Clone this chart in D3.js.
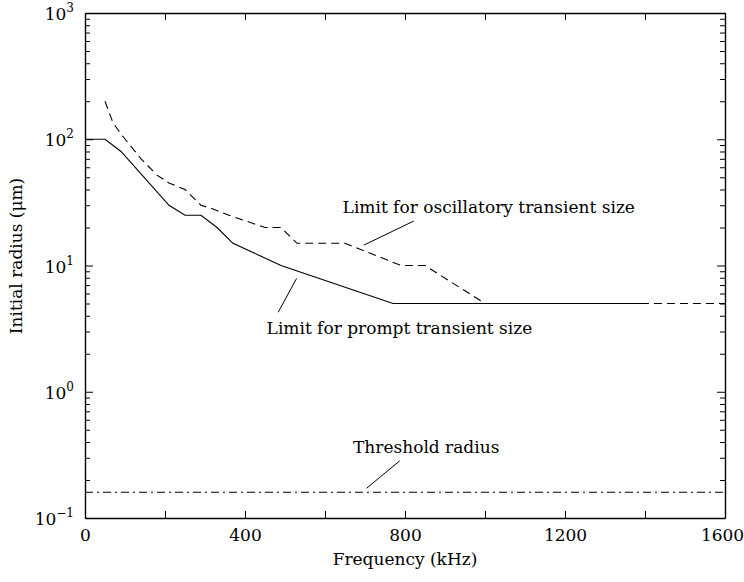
<!DOCTYPE html>
<html>
<head>
<meta charset="utf-8">
<script src="https://cdn.jsdelivr.net/npm/d3@7"></script>
<style>
  body { margin: 0; background: #fff; }
</style>
</head>
<body>
<div id="graph_area"></div>
<script>
// Data (frequency in kHz, radius in um)
const promptFreq = [0, 50, 90, 210, 250, 290, 330, 370, 490, 770, 1400];
const promptRadius = [100, 100, 80, 30, 25, 25, 20, 15, 10, 5, 5];

const oscFreq = [50, 70, 90, 140, 180, 210, 250, 290, 320, 360, 450, 490, 530, 650, 790, 850, 1000, 1600];
const oscRadius = [200, 135, 110, 70, 52, 45, 40, 30, 28, 25, 20, 20, 15, 15, 10, 10, 5, 5];

const thresholdFreq = [0, 1600];
const thresholdRadius = [0.16, 0.16];

const xTicks = [0, 200, 400, 600, 800, 1000, 1200, 1400, 1600];
const xLabelled = [0, 400, 800, 1200, 1600];
const yMajor = [0.1, 1, 10, 100, 1000];
const yExp = ['\u22121', '0', '1', '2', '3'];

// Annotations: text position and leader line, in data units
const notes = [
  { text: 'Limit for oscillatory transient size', fx: 644, fy: 26.2, line: [[822, 22.5], [697, 14.5]] },
  { text: 'Limit for prompt transient size', fx: 454, fy: 2.87, line: [[529, 7.9], [483, 4.26]] },
  { text: 'Threshold radius', fx: 670, fy: 0.325, line: [[787, 0.284], [704, 0.172]] },
];

const FONT = "'DejaVu Serif', serif";
const FS = 17;

// Draw area values
const margin = { top: 13, right: 19, bottom: 64, left: 85 };
const width = 744 - margin.left - margin.right;
const height = 582 - margin.top - margin.bottom;

const svg = d3.select('#graph_area')
  .append('svg')
    .attr('width', 744)
    .attr('height', 582)
    .attr('font-family', FONT)
  .append('g')
    .attr('transform', `translate(${margin.left},${margin.top})`);

const x = d3.scaleLinear().domain([0, 1600]).range([0, width]);
const y = d3.scaleLog().domain([0.1, 1000]).range([height, 0]);

const yMinor = [];
yMajor.slice(0, -1).forEach(d => {
  for (let k = 2; k <= 9; k++) yMinor.push(d * k);
});

// Axes (ticks point inward)
const styleAxis = g => {
  g.attr('font-family', FONT);
  g.selectAll('.domain').attr('stroke-width', 1.4);
  g.selectAll('.tick line').attr('stroke-width', 1);
};

svg.append('g')
  .attr('transform', `translate(0,${height})`)
  .call(d3.axisBottom(x).tickValues(xTicks).tickSizeInner(-7).tickSizeOuter(0).tickPadding(11)
    .tickFormat(d => xLabelled.includes(d) ? d : ''))
  .call(styleAxis)
  .call(g => g.selectAll('text').attr('font-size', FS)
    .attr('dx', d => d === 1600 ? -3 : 0));

svg.append('g')
  .call(d3.axisTop(x).tickValues(xTicks).tickSizeInner(-7).tickSizeOuter(0).tickFormat(''))
  .call(styleAxis);

svg.append('g')
  .call(d3.axisLeft(y).tickValues(yMajor).tickSizeInner(-8).tickSizeOuter(0).tickFormat(''))
  .call(styleAxis);
svg.append('g')
  .call(d3.axisLeft(y).tickValues(yMinor).tickSizeInner(-5).tickSizeOuter(0).tickFormat(''))
  .call(g => g.select('.domain').remove());

svg.append('g')
  .attr('transform', `translate(${width},0)`)
  .call(d3.axisRight(y).tickValues(yMajor).tickSizeInner(-8).tickSizeOuter(0).tickFormat(''))
  .call(styleAxis);
svg.append('g')
  .attr('transform', `translate(${width},0)`)
  .call(d3.axisRight(y).tickValues(yMinor).tickSizeInner(-5).tickSizeOuter(0).tickFormat(''))
  .call(g => g.select('.domain').remove());

// Y labels as 10 with superscript
yMajor.forEach((d, i) => {
  const t = svg.append('text')
    .attr('x', -11)
    .attr('y', y(d) + 7)
    .attr('text-anchor', 'end')
    .attr('font-size', FS);
  t.append('tspan').text('10');
  t.append('tspan').attr('font-size', 12).attr('dy', -8).text(yExp[i]);
});

// Axis titles
svg.append('text')
  .attr('x', width / 2)
  .attr('y', height + 47)
  .attr('text-anchor', 'middle')
  .attr('font-size', FS)
  .text('Frequency (kHz)');

svg.append('text')
  .attr('transform', `translate(${22 - margin.left},${243}) rotate(-90)`)
  .attr('text-anchor', 'middle')
  .attr('font-size', FS)
  .text('Initial radius (\u03bcm)');

// Lines
const line = d3.line()
  .x(d => x(d[0]))
  .y(d => y(d[1]));

svg.append('path')
  .datum(promptFreq.map((f, i) => [f, promptRadius[i]]))
  .attr('fill', 'none')
  .attr('stroke', '#000')
  .attr('stroke-width', 1.1)
  .attr('d', line);

svg.append('path')
  .datum(oscFreq.map((f, i) => [f, oscRadius[i]]))
  .attr('fill', 'none')
  .attr('stroke', '#000')
  .attr('stroke-width', 1.1)
  .attr('stroke-dasharray', '8,5')
  .attr('d', line);

svg.append('path')
  .datum(thresholdFreq.map((f, i) => [f, thresholdRadius[i]]))
  .attr('fill', 'none')
  .attr('stroke', '#000')
  .attr('stroke-width', 1.1)
  .attr('stroke-dasharray', '8,4,2,4')
  .attr('d', line);

// Annotations
notes.forEach(n => {
  svg.append('text')
    .attr('x', x(n.fx))
    .attr('y', y(n.fy))
    .attr('font-size', FS)
    .text(n.text);
  svg.append('path')
    .datum(n.line)
    .attr('fill', 'none')
    .attr('stroke', '#000')
    .attr('stroke-width', 1)
    .attr('d', line);
});
</script>
</body>
</html>
